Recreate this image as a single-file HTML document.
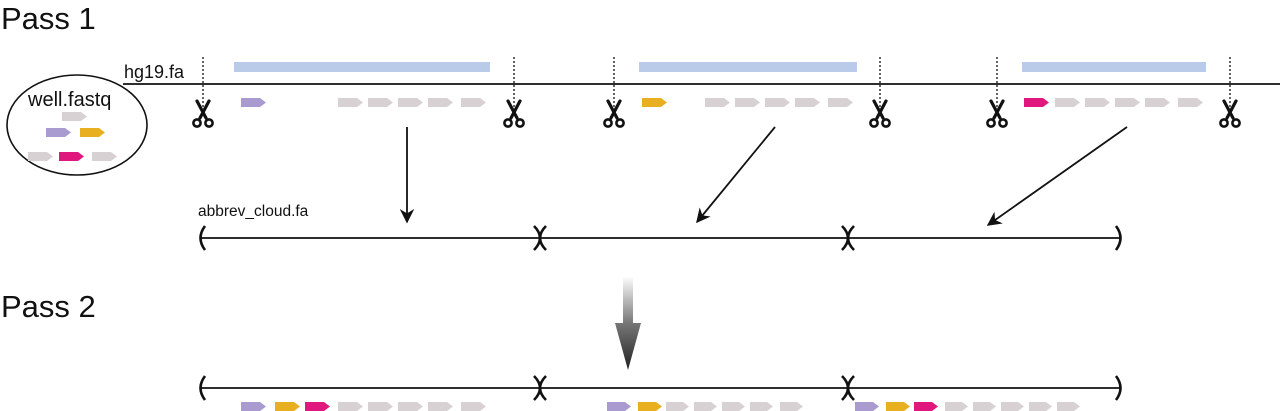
<!DOCTYPE html>
<html><head><meta charset="utf-8"><style>
html,body{margin:0;padding:0;background:#fff;width:1280px;height:411px;overflow:hidden}
svg{display:block}
text{font-family:"Liberation Sans",Arial,sans-serif;fill:#111}
</style></head><body>
<svg id="s" width="1280" height="411" viewBox="0 0 1280 411" xmlns="http://www.w3.org/2000/svg">
<defs>
<linearGradient id="g" x1="0" y1="0" x2="0" y2="1">
<stop offset="0" stop-color="#fff"/><stop offset="0.5" stop-color="#777"/><stop offset="1" stop-color="#222"/>
</linearGradient>
<marker id="ah" viewBox="0 0 10 10" refX="9" refY="5" markerWidth="8" markerHeight="8" orient="auto">
<path d="M0,0 L10,5 L0,10 L3,5 z" fill="#111"/></marker>
</defs>
<text x="1" y="29" font-size="31">Pass 1</text>
<text x="1" y="317" font-size="31">Pass 2</text>
<text x="124" y="78" font-size="18">hg19.fa</text>
<line x1="123" y1="84" x2="1280" y2="84" stroke="#111" stroke-width="1.8"/>
<rect x="234" y="62" width="256" height="10" fill="#b9cbe8"/>
<rect x="639" y="62" width="218" height="10" fill="#b9cbe8"/>
<rect x="1022" y="62" width="184" height="10" fill="#b9cbe8"/>
<g stroke="#111" stroke-width="1.3" stroke-dasharray="2,2">
<line x1="203" y1="57" x2="203" y2="110"/><line x1="514" y1="57" x2="514" y2="110"/>
<line x1="614" y1="57" x2="614" y2="110"/><line x1="880" y1="57" x2="880" y2="110"/>
<line x1="997" y1="57" x2="997" y2="110"/><line x1="1230" y1="57" x2="1230" y2="110"/>
</g>
<g id="sc"></g>
<ellipse cx="77" cy="125" rx="70" ry="50" fill="none" stroke="#111" stroke-width="1.6"/>
<text x="28" y="106" font-size="20">well.fastq</text>
<g id="reads"></g>
<g stroke="#111" stroke-width="1.8" fill="none">
<line x1="407" y1="127" x2="407" y2="222" marker-end="url(#ah)"/>
<line x1="775" y1="127" x2="697" y2="222" marker-end="url(#ah)"/>
<line x1="1127" y1="127" x2="988" y2="225" marker-end="url(#ah)"/>
</g>
<text x="198" y="216" font-size="15.5">abbrev_cloud.fa</text>
<g id="lines" stroke="#111" stroke-width="1.8" fill="none"></g>
<path d="M623,276 H633 V323 H641 L628,370 L615,323 H623 Z" fill="url(#g)"/>
</svg>
<script>
var NS="http://www.w3.org/2000/svg";
var C={p:"#a99bd0",o:"#e8b021",k:"#e0187e",g:"#d8d1d4"};
var R=document.getElementById("reads");
function rd(x,y,c,w){w=w||25;var h=9;var p=document.createElementNS(NS,"path");
p.setAttribute("d","M"+x+","+y+" H"+(x+w-6)+" L"+(x+w)+","+(y+h/2)+" L"+(x+w-6)+","+(y+h)+" H"+x+" Z");
p.setAttribute("fill",C[c]);R.appendChild(p);}
rd(241,98,"p");[338,368,398,428,461].forEach(function(x){rd(x,98,"g")});
rd(642,98,"o");[705,735,765,795,828].forEach(function(x){rd(x,98,"g")});
rd(1024,98,"k");[1055,1085,1115,1145,1178].forEach(function(x){rd(x,98,"g")});
rd(62,112,"g");rd(46,128,"p");rd(80,128,"o");rd(28,152,"g");rd(59,152,"k");rd(92,152,"g");
rd(241,402,"p");rd(275,402,"o");rd(305,402,"k");[338,368,398,428,461].forEach(function(x){rd(x,402,"g")});
rd(607,402,"p",24);rd(638,402,"o",24);[666,694,722,750,780].forEach(function(x){rd(x,402,"g",23)});
rd(855,402,"p",24);rd(886,402,"o",24);rd(914,402,"k",24);[945,973,1001,1029,1057].forEach(function(x){rd(x,402,"g",23)});
var S=document.getElementById("sc");
[203,514,614,880,997,1230].forEach(function(x){
var g=document.createElementNS(NS,"g");
g.innerHTML='<line x1="'+(x-3)+'" y1="118" x2="'+(x+6)+'" y2="101" stroke="#111" stroke-width="3.2" stroke-linecap="round"/>'+
'<line x1="'+(x+3)+'" y1="118" x2="'+(x-6)+'" y2="101" stroke="#111" stroke-width="3.2" stroke-linecap="round"/>'+
'<circle cx="'+(x-6)+'" cy="123" r="3.6" fill="#fff" stroke="#111" stroke-width="2.6"/>'+
'<circle cx="'+(x+6)+'" cy="123" r="3.6" fill="#fff" stroke="#111" stroke-width="2.6"/>';
S.appendChild(g);});
var L=document.getElementById("lines");
function ln(y){var p=document.createElementNS(NS,"path");p.setAttribute("d","M200,"+y+" H1120");L.appendChild(p);
var s="M205,"+(y-12)+" Q196,"+y+" 205,"+(y+12)+" ";
[540,848].forEach(function(x){s+="M"+(x-6)+","+(y-12)+" Q"+(x+6)+","+y+" "+(x-6)+","+(y+12)+" M"+(x+6)+","+(y-12)+" Q"+(x-6)+","+y+" "+(x+6)+","+(y+12)+" ";});
s+="M1116,"+(y-12)+" Q1125,"+y+" 1116,"+(y+12);
var q=document.createElementNS(NS,"path");q.setAttribute("d",s);q.setAttribute("stroke-width","2.6");L.appendChild(q);}
ln(238);ln(388);
</script>
</body></html>
